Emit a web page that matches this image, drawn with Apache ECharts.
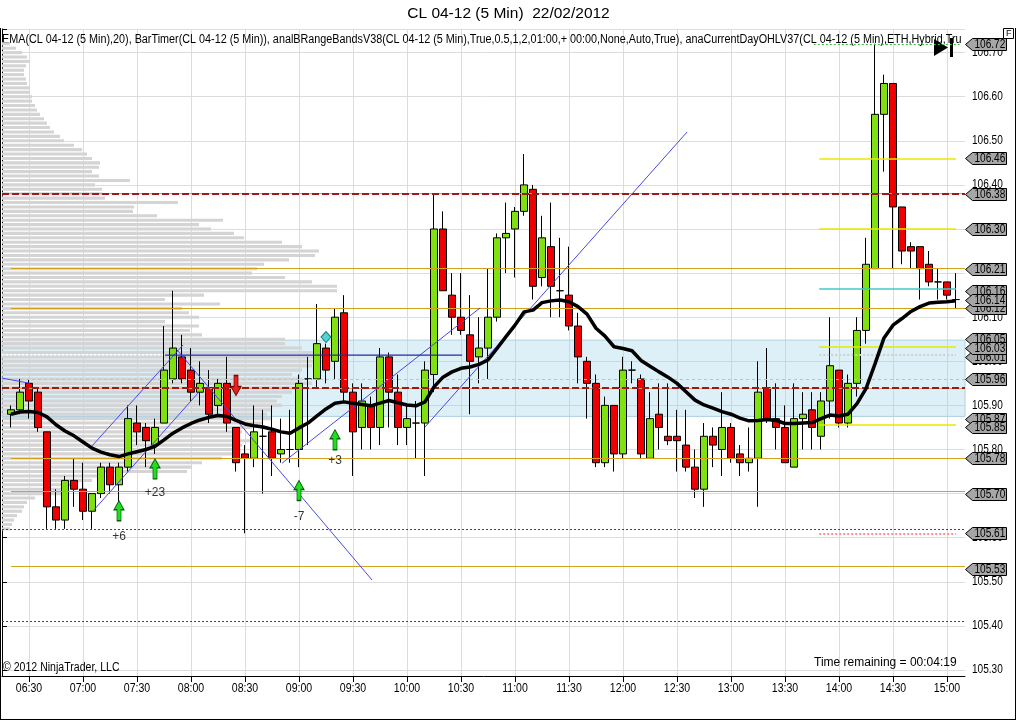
<!DOCTYPE html>
<html><head><meta charset="utf-8">
<script src="https://cdn.jsdelivr.net/npm/echarts@6/dist/echarts.min.js"></script>
<style>html,body{margin:0;padding:0;background:#fff;}#c{width:1017px;height:722px;}</style>
</head><body><div id="c"></div>
<script>
// ---------- data ----------
const times = [];
for (let m = 375; m <= 910; m += 5) times.push(String(Math.floor(m / 60)).padStart(2, '0') + ':' + String(m % 60).padStart(2, '0'));
const xTickLabels = ['06:30','07:00','07:30','08:00','08:30','09:00','09:30','10:00','10:30','11:00','11:30','12:00','12:30','13:00','13:30','14:00','14:30','15:00'];
const yTickLabels = [105.30,105.40,105.50,105.60,105.70,105.80,105.90,106.00,106.10,106.20,106.30,106.40,106.50,106.60,106.70];
// bars 06:20 .. 15:05
const opens = [105.88,105.89,105.95,105.93,105.84,105.67,105.64,105.73,105.71,105.66,
105.70,105.76,105.72,105.76,105.86,105.85,105.81,105.86,105.96,106.01,
105.98,105.93,105.94,105.90,105.95,105.85,105.79,105.78,105.83,105.84,
105.79,105.80,105.80,105.96,105.96,106.03,106.00,106.11,105.93,105.85,
105.90,105.85,106.01,105.93,105.85,105.86,105.86,105.97,106.30,106.15,
106.10,106.06,106.01,106.03,106.10,106.28,106.30,106.34,106.39,106.19,
106.26,106.16,106.15,106.08,106.00,105.95,105.77,105.90,105.79,105.98,
105.96,105.78,105.88,105.83,105.83,105.81,105.76,105.71,105.83,105.80,
105.85,105.79,105.77,105.78,105.94,105.87,105.85,105.76,105.87,105.89,
105.83,105.91,105.98,105.86,105.95,106.07,106.21,106.56,106.63,106.35,
106.26,106.26,106.22,106.18,106.18,106.14];
const highs = [105.90,105.96,105.96,105.94,105.84,105.71,105.74,105.78,105.77,105.70,
105.77,105.77,105.77,105.90,105.90,105.86,105.87,106.08,106.16,106.06,
106.03,106.00,105.98,105.96,106.01,105.85,105.81,105.90,105.89,105.90,
105.87,105.89,105.97,106.01,106.13,106.04,106.12,106.15,105.95,105.95,
105.92,106.03,106.02,105.97,105.90,105.91,106.00,106.38,106.34,106.20,
106.20,106.15,106.10,106.21,106.29,106.36,106.35,106.47,106.40,106.33,
106.36,106.28,106.26,106.11,106.01,105.97,105.92,105.90,106.01,106.00,
105.97,105.93,105.95,105.95,105.89,105.89,105.80,105.86,105.85,105.93,
105.86,105.81,105.85,106.00,106.03,105.95,105.90,105.95,105.93,105.93,
105.93,106.10,105.98,105.97,106.10,106.28,106.72,106.65,106.63,106.35,
106.27,106.26,106.25,106.21,106.18,106.20];
const lows = [105.85,105.88,105.87,105.84,105.62,105.62,105.62,105.67,105.64,105.62,
105.69,105.70,105.68,105.75,105.81,105.76,105.79,105.86,105.95,105.95,
105.91,105.90,105.86,105.88,105.84,105.75,105.61,105.76,105.70,105.74,
105.77,105.77,105.76,105.81,105.94,105.95,105.96,105.91,105.74,105.80,
105.80,105.81,105.85,105.81,105.81,105.78,105.74,105.93,106.16,106.06,
106.06,105.88,105.95,105.96,106.09,106.20,106.19,106.33,106.14,106.17,
106.10,106.10,106.07,105.95,105.87,105.76,105.76,105.75,105.78,105.95,
105.78,105.78,105.80,105.81,105.75,105.75,105.69,105.67,105.76,105.74,
105.77,105.74,105.75,105.67,105.86,105.80,105.77,105.76,105.80,105.80,
105.80,105.87,105.85,105.85,105.92,106.04,106.21,106.43,106.21,106.22,
106.21,106.14,106.17,106.14,106.14,106.12];
const closes = [105.89,105.93,105.91,105.85,105.67,105.64,105.73,105.71,105.66,105.70,
105.76,105.72,105.76,105.87,105.84,105.82,105.85,105.98,106.03,105.96,
105.93,105.95,105.88,105.95,105.86,105.77,105.78,105.84,105.83,105.78,
105.80,105.80,105.95,105.96,106.04,105.98,106.10,105.93,105.84,105.91,
105.85,106.01,105.93,105.85,105.87,105.86,105.98,106.30,106.16,106.10,
106.07,106.00,106.03,106.10,106.28,106.29,106.34,106.40,106.17,106.28,
106.17,106.16,106.08,106.01,105.95,105.77,105.90,105.79,105.98,105.98,
105.79,105.87,105.85,105.82,105.82,105.76,105.71,105.83,105.81,105.85,
105.78,105.77,105.78,105.93,105.87,105.85,105.77,105.87,105.88,105.85,
105.91,105.99,105.86,105.95,106.07,106.22,106.56,106.63,106.35,106.25,
106.25,106.21,106.18,106.18,106.15,106.14];
const ema20 = [105.880,105.885,105.886,105.884,105.874,105.856,105.842,105.831,105.817,105.803,
105.794,105.788,105.784,105.790,105.795,105.800,105.807,105.822,105.837,105.849,
105.859,105.867,105.873,105.877,105.875,105.866,105.858,105.854,105.851,105.846,
105.840,105.837,105.849,105.860,105.876,105.892,105.905,105.908,105.905,105.902,
105.899,105.905,105.911,105.906,105.901,105.899,105.908,105.942,105.964,105.976,
105.984,105.987,105.993,106.003,106.029,106.056,106.082,106.112,106.116,106.133,
106.137,106.139,106.135,106.124,106.107,106.075,106.057,106.033,106.029,106.024,
106.002,105.989,105.976,105.964,105.950,105.931,105.912,105.901,105.894,105.886,
105.880,105.871,105.865,105.866,105.868,105.866,105.859,105.859,105.860,105.861,
105.870,105.878,105.876,105.880,105.904,105.938,105.994,106.053,106.082,106.097,
106.113,106.124,106.132,106.134,106.135,106.137];
// volume profile, one row per 0.01 from 105.62 upward (relative volume)
const profileLow = 105.62;
const profileVol = [8,10,12,15,20,22,25,33,60,60,
70,90,100,185,190,200,220,230,235,240,
250,235,240,250,260,270,265,270,280,275,
280,290,300,310,300,290,300,310,320,333,
320,300,283,283,200,188,197,163,197,187,
180,218,163,202,335,335,310,283,250,255,
262,287,313,317,300,280,242,232,209,197,
221,155,131,132,176,103,100,100,93,128,
97,90,97,98,90,85,80,72,62,58,
52,48,45,42,38,35,33,30,30,28,
28,25,24,22,22,24,28,25,20,14,8];
// levels
const dashedRedLevels = [106.38, 105.935];
const dottedRedLevels = [105.62, 105.41];
const orangeLevels = [106.21, 106.12, 105.78, 105.705, 105.535];
const yellowLevels = [106.46, 106.30, 106.033, 105.855];
const cyanLevels = [106.164];
const paleDottedLevels = [106.015];
const pinkDottedLevels = [105.61];
const greenDottedLevels = [106.72];
const valueArea = [106.048, 105.875];
const valueAreaMid = 105.964;
const pocLevel = 106.015;
// segments in minutes since midnight
const orangeSpan = [380, 910];
const todaySpan = [829, 905];
const pocSpan = [375, 466];
// trend lines [[minutes, price],[minutes, price]]
const trendLines = [
  [[375, 105.962], [390.6, 105.950]],
  [[425.0, 105.808], [475.6, 106.037]],
  [[426.1, 105.663], [483.9, 105.928]],
  [[472.2, 106.026], [580.6, 105.504]],
  [[530.6, 105.769], [640.6, 106.121]],
  [[610.0, 105.851], [755.6, 106.520]]
];
const navyLine = [[465.6, 106.014], [630.6, 106.014]];
// markers
const upArrows = [['07:20', 105.661], ['07:40', 105.756], ['09:00', 105.707], ['09:20', 105.822]];
const downArrows = [['08:25', 105.945]];
const diamonds = [['09:15', 106.055]];
const markerLabels = [['07:20', 105.602, '+6'], ['07:40', 105.701, '+23'], ['09:00', 105.647, '-7'], ['09:20', 105.774, '+3']];
// price tags on the axis (drawing order)
const tagPrices = [106.72, 106.46, 106.38, 106.30, 106.21, 106.16, 106.12, 106.14, 106.05, 106.01, 106.03, 105.96, 105.87, 105.85, 105.78, 105.70, 105.61, 105.53];

// ---------- chart ----------
const FONT = "'Liberation Sans',Arial,sans-serif";
const NARROW_SCALE = 0.84;
const yMin = 105.2864, yMax = 106.7535;
const chart = echarts.init(document.getElementById('c'), null, {renderer: 'canvas'});
const halfHour = (i, v) => /:(00|30)$/.test(v);
const candleData = ['-'].concat(opens.map((o, i) => [o, closes[i], lows[i], highs[i]])).concat(['-']);
const emaData = ['-'].concat(ema20).concat(['-']);

const mk = [];
dashedRedLevels.forEach(p => {
  mk.push({yAxis: p, lineStyle: {color: '#d8a050', width: 1, type: 'solid'}});
  mk.push({yAxis: p, lineStyle: {color: '#9c1a1a', width: 2, type: [7, 3]}});
});
dottedRedLevels.forEach(p => mk.push({yAxis: p, lineStyle: {color: '#a81c1c', width: 1, type: [2, 2]}}));
const seg = (span, p, ls) => [{coord: [span[0], p], lineStyle: ls}, {coord: [span[1], p]}];
orangeLevels.forEach(p => mk.push(seg(orangeSpan, p, {color: '#d4a020', width: 1, type: 'solid'})));
yellowLevels.forEach(p => mk.push(seg(todaySpan, p, {color: '#e8e800', width: 1.5, type: 'solid'})));
cyanLevels.forEach(p => mk.push(seg(todaySpan, p, {color: '#40c8c8', width: 1.5, type: 'solid'})));
paleDottedLevels.forEach(p => mk.push(seg(todaySpan, p, {color: '#d0d0d0', width: 2, type: [2, 2]})));
pinkDottedLevels.forEach(p => mk.push(seg(todaySpan, p, {color: '#ff9090', width: 2, type: [2, 2]})));
greenDottedLevels.forEach(p => mk.push(seg([826, 907], p, {color: '#40c040', width: 1, type: [2, 2]})));
mk.push({yAxis: valueAreaMid, lineStyle: {color: '#a8c8d8', width: 1, type: [3, 3]}});

const series = [
  { // value area band
    type: 'line', xAxisIndex: 1, yAxisIndex: 0, data: [], z: 1, silent: true,
    markArea: {silent: true, itemStyle: {color: 'rgba(160,210,232,0.36)', borderColor: '#b0d0e0', borderWidth: 1},
      data: [[{yAxis: valueArea[0]}, {yAxis: valueArea[1]}]]}
  },
  { // volume profile
    type: 'custom', xAxisIndex: 2, yAxisIndex: 0, z: 2, silent: true,
    data: profileVol.map((v, i) => [v, +(profileLow + i * 0.01).toFixed(2)]),
    renderItem: (params, api) => {
      const p0 = api.coord([0, api.value(1)]);
      const p1 = api.coord([api.value(0), api.value(1)]);
      const h = api.size([0, 0.007])[1];
      return {type: 'rect', shape: {x: p0[0], y: p0[1] - h / 2, width: p1[0] - p0[0], height: h}, style: {fill: '#d4d4d4'}};
    }
  },
  { // POC dotted line over profile
    type: 'line', xAxisIndex: 1, yAxisIndex: 0, data: [[pocSpan[0], pocLevel], [pocSpan[1], pocLevel]],
    symbol: 'none', z: 3, silent: true, lineStyle: {color: '#ffffff', width: 1.5, type: [2, 2]}
  },
  { // levels
    type: 'line', xAxisIndex: 1, yAxisIndex: 0, data: [], z: 3, silent: true,
    markLine: {silent: true, symbol: ['none', 'none'], label: {show: false}, animation: false, data: mk}
  },
  {
    type: 'candlestick', xAxisIndex: 0, yAxisIndex: 0, z: 4, barWidth: 7, silent: true,
    data: candleData,
    itemStyle: {color: '#80e010', color0: '#ee0000', borderColor: '#000', borderColor0: '#000', borderColorDoji: '#000', borderWidth: 1}
  }
];
trendLines.forEach(l => series.push({type: 'line', xAxisIndex: 1, yAxisIndex: 0, data: l, symbol: 'none', z: 5, silent: true,
  lineStyle: {color: '#4848e8', width: 1}}));
series.push({type: 'line', xAxisIndex: 1, yAxisIndex: 0, data: navyLine, symbol: 'none', z: 5, silent: true,
  lineStyle: {color: '#2a2aa0', width: 1.2}});
series.push({type: 'line', xAxisIndex: 0, yAxisIndex: 0, data: emaData, symbol: 'none', z: 6, silent: true,
  lineStyle: {color: '#000', width: 3.5}});
series.push({type: 'scatter', xAxisIndex: 0, yAxisIndex: 0, z: 7, silent: true, data: upArrows,
  symbol: 'path://M5,0 L10,9 L7,9 L7,20 L3,20 L3,9 L0,9 Z', symbolSize: [10, 20], symbolKeepAspect: false,
  itemStyle: {color: '#1ee01e', borderColor: '#0a5a0a', borderWidth: 1, opacity: 1}});
series.push({type: 'scatter', xAxisIndex: 0, yAxisIndex: 0, z: 7, silent: true, data: downArrows,
  symbol: 'path://M3,0 L7,0 L7,11 L10,11 L5,20 L0,11 L3,11 Z', symbolSize: [10, 20],
  itemStyle: {color: '#e82020', borderColor: '#7a0000', borderWidth: 1, opacity: 1}});
series.push({type: 'scatter', xAxisIndex: 0, yAxisIndex: 0, z: 7, silent: true, data: diamonds,
  symbol: 'diamond', symbolSize: [10, 11], itemStyle: {color: '#50d4d4', borderColor: '#207878', borderWidth: 1, opacity: 1}});
series.push({type: 'scatter', xAxisIndex: 0, yAxisIndex: 0, z: 7, silent: true,
  data: markerLabels.map(m => ({value: [m[0], m[1]], name: m[2]})), symbolSize: 0,
  label: {show: true, position: 'inside', formatter: p => p.name, color: '#000', fontSize: 12, fontFamily: FONT}});
series.push({ // y-axis tick labels (condensed)
  type: 'custom', xAxisIndex: 1, yAxisIndex: 0, z: 10, silent: true, clip: false,
  data: yTickLabels.map(v => [910, v]),
  renderItem: (params, api) => {
    const pt = api.coord([api.value(0), api.value(1)]);
    return {type: 'text', x: pt[0] + 7, y: pt[1], scaleX: NARROW_SCALE,
      style: {x: 0, y: 0, text: yTickLabels[params.dataIndex].toFixed(2), fill: '#000', font: '12px ' + FONT, verticalAlign: 'middle', align: 'left'}};
  }
});
series.push({ // x-axis tick labels (condensed)
  type: 'custom', xAxisIndex: 0, yAxisIndex: 0, z: 10, silent: true, clip: false,
  data: xTickLabels.map(t => [t, yMin]),
  renderItem: (params, api) => {
    const pt = api.coord([api.value(0), api.value(1)]);
    return {type: 'text', x: pt[0], y: pt[1] + 13, scaleX: 0.88,
      style: {x: 0, y: 0, text: xTickLabels[params.dataIndex], fill: '#000', font: '12px ' + FONT, verticalAlign: 'middle', align: 'center'}};
  }
});
series.push({ // axis price tags
  type: 'custom', xAxisIndex: 1, yAxisIndex: 0, z: 20, silent: true, clip: false,
  data: tagPrices.map(p => [910, p]),
  renderItem: (params, api) => {
    const pt = api.coord([api.value(0), api.value(1)]);
    const x = Math.round(pt[0]) + 0.5, y = Math.round(pt[1]) + 0.5;
    return {type: 'group', children: [
      {type: 'polygon', shape: {points: [[x, y], [x + 7, y - 6], [x + 41, y - 6], [x + 41, y + 6], [x + 7, y + 6]]},
        style: {fill: '#a6a6a6', stroke: '#000', lineWidth: 1}},
      {type: 'text', x: x + 9, y: y, scaleX: NARROW_SCALE, style: {x: 0, y: 0, text: tagPrices[params.dataIndex].toFixed(2), fill: '#000',
        font: '12px ' + FONT, verticalAlign: 'middle', align: 'left'}}
    ]};
  }
});

const header = 'EMA(CL 04-12 (5 Min),20), BarTimer(CL 04-12 (5 Min)), analBRangeBandsV38(CL 04-12 (5 Min),True,0.5,1,2,01:00,+ 00:00,None,Auto,True), anaCurrentDayOHLV37(CL 04-12 (5 Min),ETH,Hybrid,True)';

chart.setOption({
  animation: false,
  backgroundColor: '#fff',
  grid: {left: 2, right: 52, top: 29, bottom: 46, containLabel: false},
  xAxis: [
    {type: 'category', data: times, boundaryGap: false, gridIndex: 0,
      axisLine: {show: true, lineStyle: {color: '#000', width: 1}},
      axisTick: {show: true, interval: halfHour, length: 6, lineStyle: {color: '#000'}},
      axisLabel: {show: false},
      splitLine: {show: true, interval: halfHour, lineStyle: {color: '#dcdcdc', width: 1}}},
    {type: 'value', min: 375, max: 910, show: false, gridIndex: 0, splitLine: {show: false}},
    {type: 'value', min: 0, max: 963, show: false, gridIndex: 0, splitLine: {show: false}}
  ],
  yAxis: [{type: 'value', position: 'right', min: yMin, max: yMax, splitNumber: 14, scale: true,
    axisLine: {show: true, lineStyle: {color: '#000', width: 1}},
    axisTick: {show: true, length: 5, lineStyle: {color: '#000'}},
    axisLabel: {show: false},
    splitLine: {show: true, lineStyle: {color: '#dcdcdc', width: 1}}}],
  series: series,
  graphic: [
    {type: 'text', left: 'center', top: 6, z: 1, style: {text: 'CL 04-12 (5 Min)  22/02/2012', font: '15.5px ' + FONT, fill: '#000'}},
    {type: 'text', x: 2, y: 34, scaleX: 0.9, z: 1, style: {text: header, font: '12px ' + FONT, fill: '#000', width: 1068, overflow: 'truncate', ellipsis: ''}},
    {type: 'text', x: 3, y: 662, scaleX: 0.88, z: 1, style: {text: '\u00a9 2012 NinjaTrader, LLC', font: '12px ' + FONT, fill: '#000'}},
    {type: 'text', x: 814, y: 657, z: 1, style: {text: 'Time remaining = 00:04:19', font: '12px ' + FONT, fill: '#000'}},
    {type: 'polygon', z: 1, shape: {points: [[934, 39], [934, 56], [948, 47.5]]}, style: {fill: '#000'}},
    {type: 'rect', z: 1, shape: {x: 950, y: 38, width: 3, height: 19}, style: {fill: '#000'}},
    {type: 'rect', z: 30, shape: {x: 1003.5, y: 28.5, width: 10, height: 10}, style: {fill: '#fff', stroke: '#000', lineWidth: 1}},
    {type: 'text', z: 31, x: 1006, y: 29, style: {text: 'F', font: '9px ' + FONT, fill: '#000'}},
    {type: 'line', z: 30, shape: {x1: 0.5, y1: 28, x2: 0.5, y2: 720}, style: {stroke: '#000', lineWidth: 1}},
    {type: 'line', z: 30, shape: {x1: 0, y1: 719.5, x2: 1016, y2: 719.5}, style: {stroke: '#000', lineWidth: 1}},
    {type: 'line', z: 30, shape: {x1: 1015.5, y1: 28, x2: 1015.5, y2: 720}, style: {stroke: '#000', lineWidth: 1}}
  ]
});
</script></body></html>
